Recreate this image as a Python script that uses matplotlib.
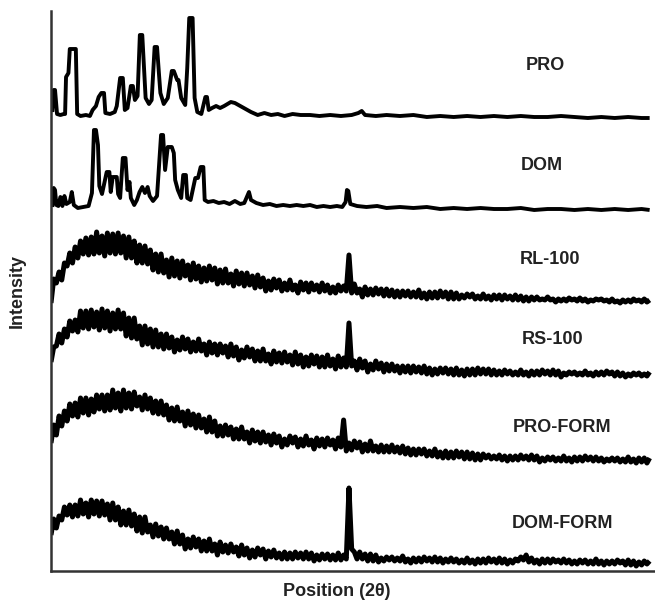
import numpy as np
import matplotlib.pyplot as plt

plt.rcParams['font.family'] = ['Liberation Sans', 'DejaVu Sans']

names = ["PRO", "DOM", "RL-100", "RS-100", "PRO-FORM", "DOM-FORM"]

# crystalline patterns: explicit (2theta, counts) pairs
pro_x = [4.10, 4.20, 4.30, 4.45, 4.70, 4.95, 5.05, 5.12, 5.30, 5.40, 5.85, 5.95,
         6.20, 6.60, 6.90, 7.10, 7.35, 7.55, 7.75, 7.95, 8.05, 8.40, 8.75, 8.90,
         9.15, 9.35, 9.50, 9.70, 9.95, 10.10, 10.25, 10.45, 10.62, 10.80, 10.95,
         11.05, 11.30, 11.50, 11.72, 11.90, 12.05, 12.15, 12.40, 12.70, 13.00,
         13.15, 13.40, 13.50, 13.70, 14.00, 14.15, 14.30, 14.55, 14.70, 14.90,
         15.20, 15.50, 15.62, 15.75, 16.00, 16.30, 16.60, 16.90, 17.40, 17.70,
         18.10, 18.50, 18.90, 19.40, 19.90, 20.40, 20.90, 21.40, 22.00, 22.60,
         23.30, 24.00, 24.80, 25.60, 26.40, 26.90, 27.15, 27.40, 28.20, 29.00,
         30.0, 31.0, 32.0, 33.0, 34.0, 35.0, 36.0, 37.0, 38.0, 39.0, 40.0, 41.0,
         42.0, 43.0, 44.0, 45.0, 46.0, 47.0, 48.0, 48.6]
pro_y = [6, 28, 28, 4, 3, 4, 4, 41, 45, 69, 69, 4,
         2, 3, 2, 8, 12, 21, 25, 25, 5, 4, 6, 12,
         40, 40, 8, 10, 32, 32, 18, 22, 83, 83, 45,
         20, 14, 18, 71, 71, 43, 25, 14, 20, 47,
         47, 38, 38, 20, 13, 50, 100, 100, 20, 6,
         4, 21, 21, 8, 10, 12, 10, 12, 16, 15,
         12, 9, 6, 3, 5, 3, 4, 2, 4, 3,
         3, 2, 3, 2, 3, 5, 7, 3, 2, 3,
         2, 3, 1, 2, 1, 2, 1, 2, 1, 2, 1, 1,
         2, 1, 0, 1, 0, 1, 0, 0]

dom_x = [4.10, 4.20, 4.30, 4.40, 4.55, 4.70, 4.85, 5.00, 5.15, 5.40, 5.55, 5.70,
         6.00, 6.40, 6.80, 7.05, 7.20, 7.35, 7.50, 7.60, 7.80, 8.15, 8.35, 8.45,
         8.60, 8.90, 9.00, 9.15, 9.35, 9.55, 9.70, 9.85, 9.95, 10.20, 10.40,
         10.60, 10.80, 11.00, 11.20, 11.35, 11.60, 11.90, 12.20, 12.35, 12.50,
         12.70, 13.00, 13.15, 13.25, 13.45, 13.70, 13.85, 14.05, 14.15, 14.40,
         14.75, 14.95, 15.15, 15.35, 15.45, 15.70, 16.10, 16.50, 16.90, 17.30,
         17.70, 18.10, 18.40, 18.75, 18.90, 19.30, 19.80, 20.30, 20.80, 21.30,
         21.80, 22.30, 22.80, 23.30, 23.80, 24.30, 24.80, 25.30, 25.70, 25.95,
         26.05, 26.15, 26.30, 26.80, 27.50, 28.30, 29.0, 30.0, 31.0, 32.0, 33.0,
         34.0, 35.0, 36.0, 37.0, 38.0, 39.0, 40.0, 41.0, 42.0, 43.0, 44.0, 45.0,
         46.0, 47.0, 48.0, 48.6]
dom_y = [3, 22, 20, 5, 4, 13, 4, 14, 6, 8, 18, 5,
         2, 3, 4, 17, 80, 80, 65, 24, 16, 38, 38, 18,
         33, 33, 16, 12, 52, 52, 20, 28, 12, 5, 10,
         18, 23, 17, 23, 14, 9, 14, 75, 75, 40,
         63, 63, 57, 30, 20, 12, 35, 35, 12, 10,
         32, 32, 43, 43, 10, 8, 9, 7, 8, 6,
         9, 6, 7, 18, 10, 7, 5, 6, 4, 5,
         4, 5, 4, 5, 3, 4, 3, 4, 3, 8,
         20, 19, 6, 4, 3, 4, 2, 3, 2, 3, 1,
         2, 1, 2, 1, 1, 2, 0, 1, 1, 0, 1, 0,
         1, 0, 1, 0]

# amorphous patterns: noisy trace read as alternating low / high counts,
# low at 4.0 + 0.4*i deg, high 0.2 deg later
rl100_lo = [-2, 18, 21, 35, 38, 43, 47, 46, 47, 48,
            45, 48, 47, 48, 43, 43, 38, 38, 37, 31,
            29, 28, 24, 25, 23, 25, 21, 22, 19, 20,
            21, 17, 18, 18, 15, 17, 15, 16, 13, 14,
            10, 11, 13, 10, 11, 11, 8, 11, 9, 11,
            9, 10, 8, 8, 10, 10, 8, 8, 4, 6,
            6, 7, 5, 5, 4, 4, 5, 4, 4, 3,
            2, 3, 3, 4, 2, 2, 2, 3, 4, 2,
            2, 2, 1, 2, 1, 2, 1, 1, 0, 0,
            1, 1, 1, 1, -1, 0, 0, 1, 0, 0,
            -1, 0, 1, 0, -1, -1, -2, -1, -1, 0,
            -1, -1]
rl100_hi = [22, 29, 38, 48, 54, 60, 63, 64, 69, 65,
            68, 67, 68, 65, 64, 60, 56, 55, 51, 47,
            47, 41, 43, 40, 40, 36, 38, 35, 33, 35,
            33, 31, 32, 27, 30, 28, 28, 25, 26, 23,
            20, 22, 21, 18, 21, 16, 19, 18, 18, 16,
            18, 16, 14, 16, 15, 46, 17, 12, 14, 12,
            13, 12, 12, 11, 10, 10, 10, 9, 11, 8,
            9, 9, 10, 9, 9, 8, 6, 7, 7, 5,
            7, 5, 6, 6, 6, 5, 6, 5, 4, 4,
            4, 2, 4, 2, 2, 2, 3, 2, 3, 2,
            1, 2, 2, 1, 2, 0, 1, 1, 2, 1,
            2, 1]
rs100_lo = [13, 29, 32, 38, 44, 43, 47, 46, 48, 45,
            47, 44, 46, 46, 39, 37, 36, 30, 31, 28,
            28, 26, 27, 23, 25, 26, 23, 24, 24, 20,
            22, 20, 22, 18, 19, 15, 17, 18, 14, 14,
            14, 11, 13, 12, 13, 10, 11, 8, 9, 11,
            8, 8, 9, 6, 8, 8, 9, 5, 7, 3,
            5, 6, 3, 4, 4, 2, 3, 2, 3, 2,
            1, 0, 1, 2, 1, 0, 0, -1, 0, 0,
            1, 1, 0, 0, 0, 1, 0, 0, 0, -1,
            0, 0, 1, 0, 0, -2, 0, 1, 0, 0,
            0, -1, 0, 0, 1, -1, -1, -2, -1, 0,
            -1, -1]
rs100_hi = [28, 41, 46, 54, 55, 64, 64, 65, 63, 66,
            64, 62, 65, 62, 57, 57, 49, 49, 46, 45,
            41, 41, 38, 35, 38, 36, 33, 36, 31, 33,
            31, 31, 29, 31, 28, 25, 28, 26, 24, 26,
            21, 24, 22, 23, 20, 23, 20, 18, 20, 19,
            18, 20, 16, 19, 17, 52, 14, 16, 14, 11,
            14, 12, 11, 11, 9, 9, 9, 9, 8, 9,
            7, 6, 7, 7, 6, 7, 5, 6, 6, 7,
            6, 6, 5, 4, 5, 4, 3, 5, 3, 4,
            4, 5, 4, 5, 4, 2, 3, 3, 2, 4,
            2, 3, 3, 4, 3, 3, 2, 1, 2, 2,
            1, 3]
proform_lo = [18, 26, 35, 40, 45, 44, 48, 46, 49, 52,
              50, 51, 53, 50, 53, 52, 55, 51, 52, 48,
              47, 46, 41, 40, 40, 35, 36, 33, 33, 29,
              29, 25, 25, 26, 22, 22, 22, 18, 20, 18,
              19, 16, 18, 14, 16, 18, 14, 15, 16, 12,
              15, 14, 16, 12, 14, 10, 11, 13, 9, 10,
              10, 9, 9, 9, 9, 8, 7, 6, 6, 7,
              5, 5, 4, 3, 3, 3, 4, 2, 2, 1,
              1, 3, 2, 2, 1, 0, 1, 1, 2, 1,
              1, -1, 0, 1, 0, 0, 0, -1, 0, 0,
              1, 0, 0, -1, 0, 0, -1, -1, -1, -2,
              -1, -2]
proform_hi = [36, 45, 50, 57, 58, 63, 63, 62, 66, 66,
              66, 71, 68, 71, 68, 69, 64, 66, 63, 60,
              60, 56, 53, 54, 49, 50, 47, 46, 42, 44,
              40, 35, 36, 34, 32, 34, 29, 31, 29, 29,
              26, 27, 25, 22, 25, 24, 22, 25, 21, 23,
              22, 23, 21, 23, 41, 18, 20, 19, 17, 20,
              15, 16, 15, 16, 14, 15, 13, 12, 12, 12,
              10, 12, 9, 10, 9, 10, 9, 9, 8, 7,
              7, 6, 5, 6, 5, 5, 5, 6, 5, 6,
              5, 3, 4, 4, 3, 5, 3, 4, 4, 5,
              4, 4, 3, 2, 3, 3, 2, 4, 2, 3,
              3, 3]
domform_lo = [28, 35, 43, 48, 46, 47, 49, 46, 49, 47,
              48, 43, 43, 38, 38, 37, 32, 30, 31, 26,
              27, 24, 24, 19, 19, 14, 15, 16, 12, 12,
              12, 8, 11, 10, 11, 7, 8, 5, 6, 8,
              4, 6, 5, 4, 4, 4, 5, 4, 4, 2,
              3, 4, 3, 3, 3, 4, 14, 4, 4, 2,
              2, 1, 2, 3, 2, 2, 1, 0, 1, 1,
              2, 1, 1, 0, 1, 1, 0, 0, 0, -1,
              0, 0, 1, 0, 0, -1, 0, 2, 3, 1,
              0, -1, 0, 0, 1, 0, 0, -1, -1, 0,
              -1, -1, -1, -2, -1, -1, 0, -2, -2, -3,
              -2, -1]
domform_hi = [44, 47, 56, 58, 58, 63, 60, 63, 62, 62,
              59, 60, 56, 52, 53, 49, 46, 46, 38, 39,
              36, 35, 31, 32, 28, 24, 26, 24, 22, 24,
              19, 21, 18, 19, 16, 18, 15, 13, 15, 14,
              12, 13, 10, 11, 10, 11, 10, 11, 10, 8,
              9, 9, 8, 10, 8, 75, 11, 11, 9, 9,
              8, 5, 6, 6, 5, 7, 4, 5, 5, 6,
              5, 6, 5, 4, 5, 4, 3, 5, 3, 4,
              4, 5, 4, 5, 4, 3, 4, 6, 8, 5,
              3, 4, 4, 4, 3, 4, 3, 2, 3, 3,
              2, 4, 2, 2, 2, 3, 2, 3, 2, 1,
              2, 2]
start, step = 4.0, 0.2

# vertical stacking offset of each pattern and where its name sits
offsets = [453, 361, 270, 196, 110, 8]
label_xy = [(40.8, 505), (40.6, 405), (41.2, 312), (41.4, 232), (42.1, 144), (42.1, 48)]


def trace(lo, hi):
    y = np.column_stack([lo, hi]).ravel()
    x = start + step * np.arange(len(y))
    return x, y


def main():
    fig = plt.figure(figsize=(6.55, 6.08), dpi=100)
    ax = fig.add_axes([51 / 655, 37 / 608, 604 / 655, 560 / 608])

    series = [
        (pro_x, pro_y, 2.8),
        (dom_x, dom_y, 2.8),
        trace(rl100_lo, rl100_hi) + (3.6,),
        trace(rs100_lo, rs100_hi) + (3.6,),
        trace(proform_lo, proform_hi) + (3.6,),
        trace(domform_lo, domform_hi) + (3.6,),
    ]
    for (x, y, lw), off in zip(series, offsets):
        ax.plot(x, np.array(y) + off, color="black", lw=lw,
                solid_joinstyle="round", solid_capstyle="butt")

    for name, (tx, ty) in zip(names, label_xy):
        ax.text(tx, ty, name, ha="center", va="center",
                fontsize=13, fontweight="bold", color="#222222")

    ax.set_xlim(4, 49)
    ax.set_ylim(0, 560)
    ax.set_xticks([])
    ax.set_yticks([])
    for side in ["top", "right"]:
        ax.spines[side].set_visible(False)
    for side in ["left", "bottom"]:
        ax.spines[side].set_linewidth(1.8)
        ax.spines[side].set_color("#333333")

    ax.set_xlabel("Position (2θ)", fontsize=13, fontweight="bold", color="#222222")
    ax.xaxis.set_label_coords((337 - 51) / 604, -0.022)
    ax.set_ylabel("Intensity", fontsize=13, fontweight="bold", color="#222222")
    ax.yaxis.set_label_coords(-0.042, 0.5)

    fig.savefig("out.png", dpi=100)
    plt.close(fig)


if __name__ == "__main__":
    main()
